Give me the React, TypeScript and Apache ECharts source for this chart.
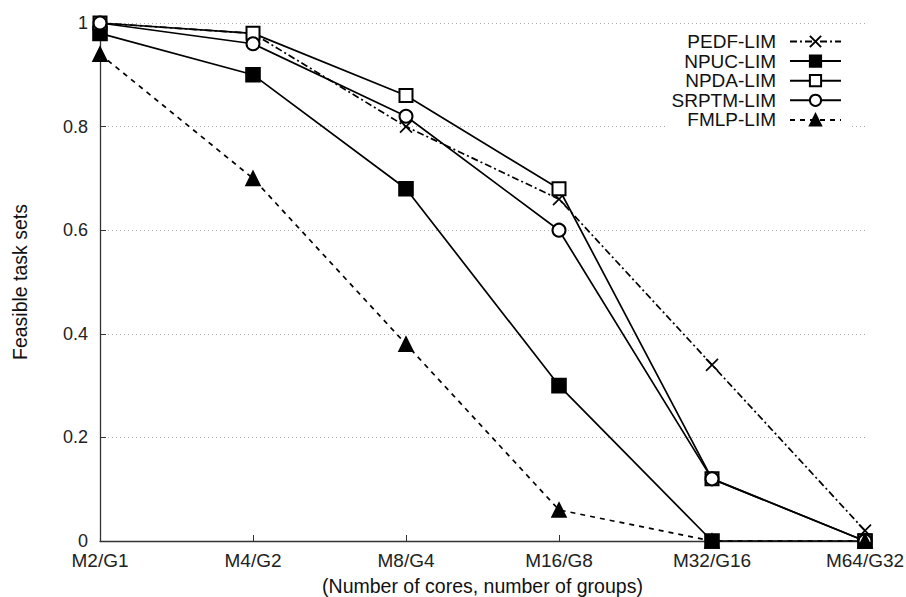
import React, { useEffect, useRef } from "react";
import * as echarts from "echarts";

const categories = ["M2/G1", "M4/G2", "M8/G4", "M16/G8", "M32/G16", "M64/G32"];
const pedf = [1, 0.98, 0.8, 0.66, 0.34, 0.02];
const npuc = [0.98, 0.9, 0.68, 0.3, 0, 0];
const npda = [1, 0.98, 0.86, 0.68, 0.12, 0];
const srptm = [1, 0.96, 0.82, 0.6, 0.12, 0];
const fmlp = [0.94, 0.7, 0.38, 0.06, 0, 0];
const yTicks = [0, 0.2, 0.4, 0.6, 0.8, 1];

const FONT = "'Liberation Sans', Arial, Helvetica, sans-serif";
const CROSS = "path://M0 0L10 10M10 0L0 10";

export default function App() {
  const ref = useRef<HTMLDivElement>(null);
  useEffect(() => {
    if (!ref.current) return;
    const chart = echarts.init(ref.current, undefined, { renderer: "svg" });
    const mk = (name: string, data: number[], symbol: string, size: number, dash: any) => ({
      name,
      type: "line",
      data,
      symbol,
      symbolSize: size,
      showSymbol: true,
      lineStyle: { color: "#000", width: 1.7, type: dash },
      itemStyle: {
        color: "#000",
        borderColor: "#000",
        borderWidth: 1.6,
      },
      emphasis: { disabled: true },
    });
    chart.setOption({
      animation: false,
      textStyle: { fontFamily: FONT },
      grid: { left: 100, right: 41, top: 23, bottom: 56, containLabel: false, outerBoundsMode: "none" },
      legend: {
        right: 54,
        top: 27,
        orient: "vertical",
        align: "right",
        itemWidth: 51,
        itemHeight: 14,
        itemGap: 0.6,
        padding: [5, 10, 6, 5],
        backgroundColor: "#fff",
        textStyle: { fontSize: 19, lineHeight: 16, color: "#111", fontFamily: FONT, padding: [0, 9, 0, 0] },
        data: ["PEDF-LIM", "NPUC-LIM", "NPDA-LIM", "SRPTM-LIM", "FMLP-LIM"],
      },
      xAxis: {
        type: "category",
        data: categories,
        boundaryGap: false,
        name: "(Number of cores, number of groups)",
        nameLocation: "middle",
        nameGap: 37,
        nameTextStyle: { fontSize: 19.5, lineHeight: 16, color: "#111", fontFamily: FONT },
        axisLine: { lineStyle: { color: "#333", width: 1.3 } },
        axisTick: { inside: true, length: 6, lineStyle: { color: "#333" } },
        axisLabel: { fontSize: 19, lineHeight: 16, color: "#222", margin: 11, fontFamily: FONT },
        splitLine: { show: false },
      },
      yAxis: {
        type: "value",
        min: 0,
        max: 1,
        interval: 0.2,
        name: "Feasible task sets",
        nameLocation: "middle",
        nameGap: 70,
        nameTextStyle: { fontSize: 19.5, color: "#111", fontFamily: FONT },
        axisLine: { show: true, lineStyle: { color: "#333", width: 1.3 } },
        axisTick: { show: true, inside: true, length: 6, lineStyle: { color: "#333" } },
        axisLabel: {
          fontSize: 18,
          lineHeight: 14,
          color: "#222",
          margin: 12,
          fontFamily: FONT,
          formatter: (v: number) => (yTicks.includes(+v.toFixed(2)) ? String(+v.toFixed(2)) : ""),
        },
        splitLine: { show: true, lineStyle: { color: "#aaa", type: [1, 3], width: 1 } },
      },
      series: [
        mk("PEDF-LIM", pedf, CROSS, 12, [7, 3, 2, 3]),
        mk("NPUC-LIM", npuc, "rect", 14, "solid"),
        mk("NPDA-LIM", npda, "emptyRect", 13, "solid"),
        mk("SRPTM-LIM", srptm, "emptyCircle", 13, "solid"),
        mk("FMLP-LIM", fmlp, "triangle", 14, [5, 5]),
      ],
    });
    return () => chart.dispose();
  }, []);
  return <div ref={ref} style={{ width: 906, height: 597, position: "absolute", left: 0, top: 0 }} />;
}
